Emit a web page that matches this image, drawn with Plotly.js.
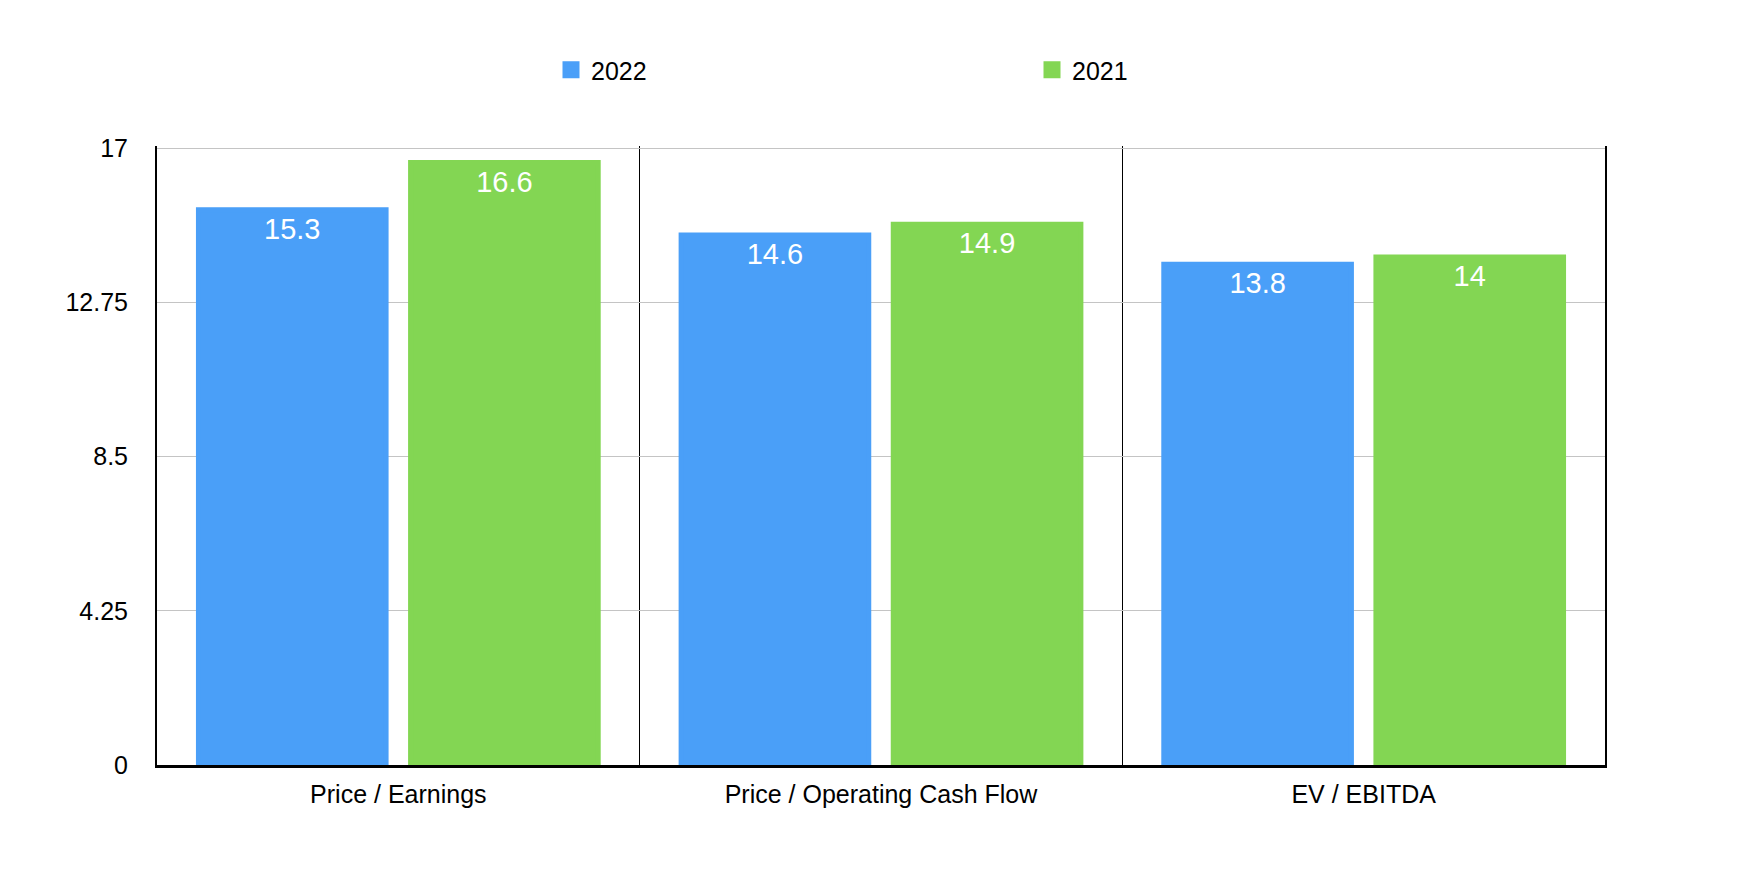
<!DOCTYPE html>
<html>
<head>
<meta charset="utf-8">
<script src="https://cdn.plot.ly/plotly-3.0.1.min.js"></script>
<style>
  html, body { margin: 0; padding: 0; background: #ffffff; }
  #chart { width: 1756px; height: 880px; }
</style>
</head>
<body>
<div id="chart"></div>
<script>
const categories = ["Price / Earnings", "Price / Operating Cash Flow", "EV / EBITDA"];
const values2022 = [15.3, 14.6, 13.8];
const values2021 = [16.6, 14.9, 14];
const seriesNames = ["2022", "2021"];
const yTickVals = [0, 4.25, 8.5, 12.75, 17];
const yTickText = ["0", "4.25", "8.5", "12.75", "17"];

const FONT = "Liberation Sans, Arial, Helvetica, sans-serif";
const BLUE = "#4a9ff8";
const GREEN = "#83d653";

function barTrace(name, vals, color) {
  return {
    type: "bar",
    name: name,
    x: categories,
    y: vals,
    text: vals.map(String),
    textposition: "inside",
    insidetextanchor: "end",
    constraintext: "none",
    textfont: { color: "#ffffff", size: 29, family: FONT },
    marker: { color: color, line: { color: color, width: 5 } },
    hoverinfo: "x+y+name"
  };
}

const traces = [
  barTrace(seriesNames[0], values2022, BLUE),
  barTrace(seriesNames[1], values2021, GREEN)
];

const layout = {
  width: 1756,
  height: 880,
  paper_bgcolor: "#ffffff",
  plot_bgcolor: "#ffffff",
  font: { family: FONT, size: 25, color: "#000000" },
  margin: { l: 157, r: 151, t: 146, b: 115, pad: 0 },
  barmode: "group",
  bargap: 0.121,
  bargroupgap: 0.1155,
  showlegend: true,
  legend: {
    orientation: "h",
    xref: "container",
    yref: "container",
    x: 551 / 1756,
    xanchor: "left",
    y: 1 - 70 / 880,
    yanchor: "middle",
    entrywidth: 436,
    font: { family: FONT, size: 25, color: "#000000" },
    bgcolor: "rgba(0,0,0,0)"
  },
  xaxis: {
    type: "category",
    tickson: "boundaries",
    showgrid: true,
    gridcolor: "#000000",
    gridwidth: 1.5,
    showline: true,
    linecolor: "#000000",
    linewidth: 2.5,
    mirror: false,
    ticks: "",
    ticklabelstandoff: 5,
    tickfont: { family: FONT, size: 25, color: "#000000" },
    fixedrange: true
  },
  yaxis: {
    range: [0, 17.055],
    tickmode: "array",
    tickvals: yTickVals,
    ticktext: yTickText,
    showgrid: true,
    gridcolor: "#c4c4c4",
    gridwidth: 1,
    zeroline: false,
    showline: true,
    linecolor: "#000000",
    linewidth: 2,
    mirror: true,
    ticks: "",
    ticklabelstandoff: 22,
    tickfont: { family: FONT, size: 25, color: "#000000" },
    fixedrange: true
  }
};

Plotly.newPlot("chart", traces, layout, { displayModeBar: false, staticPlot: true });
</script>
</body>
</html>
